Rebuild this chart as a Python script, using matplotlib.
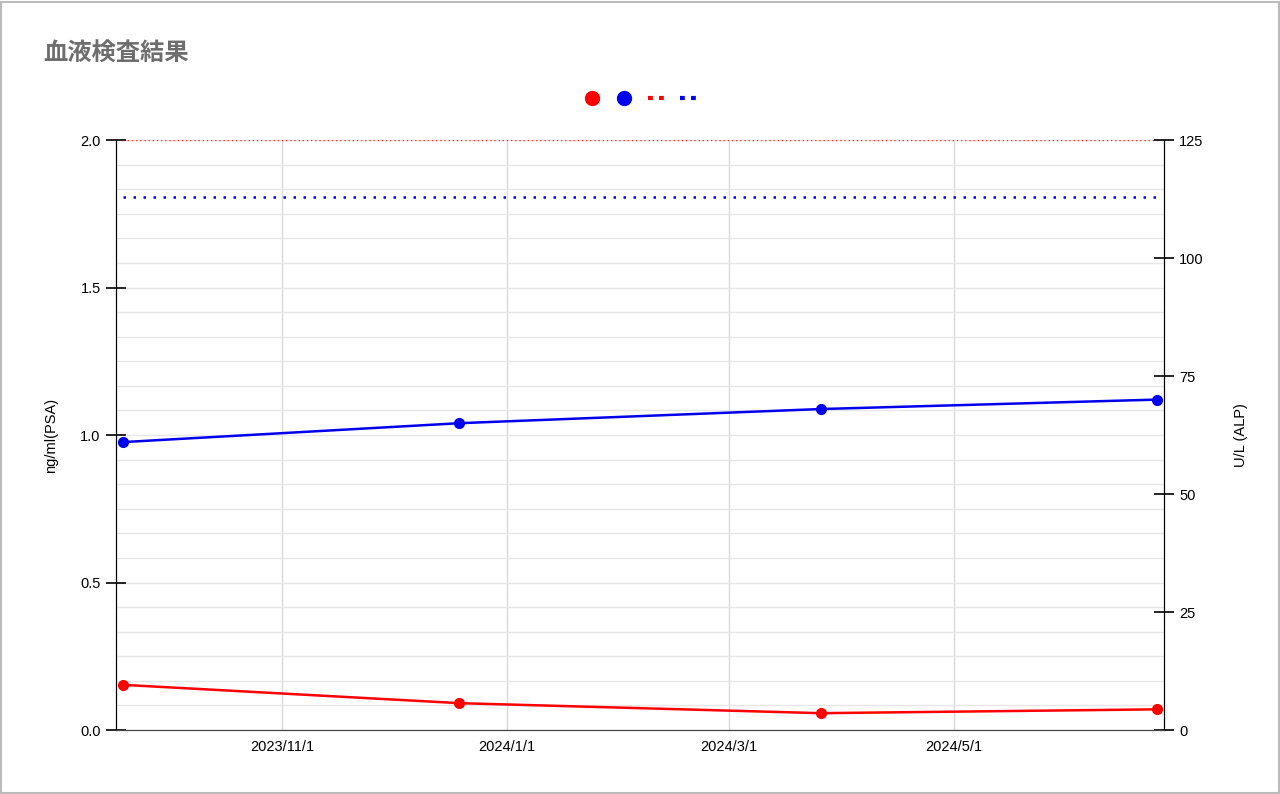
# plot.py
# Blood test results chart: PSA (left axis) and ALP (right axis) over time,
# with dotted reference lines for each.

import datetime as dt

import matplotlib
matplotlib.use("Agg")
import matplotlib.pyplot as plt
import matplotlib.dates as mdates
from matplotlib.lines import Line2D
from matplotlib.patches import Rectangle
from matplotlib.ticker import MultipleLocator, FixedLocator, FuncFormatter


# ---------------------------------------------------------
# Data
# ---------------------------------------------------------
TITLE = "血液検査結果"

test_dates = [
    dt.date(2023, 9, 19),
    dt.date(2023, 12, 19),
    dt.date(2024, 3, 26),
    dt.date(2024, 6, 25),
]
psa_values = [0.153, 0.091, 0.057, 0.070]   # ng/ml
alp_values = [61, 65, 68, 70]               # U/L

psa_limit = 2.0
alp_limit = 113

date_ticks = [
    dt.date(2023, 11, 1),
    dt.date(2024, 1, 1),
    dt.date(2024, 3, 1),
    dt.date(2024, 5, 1),
]

PSA_COLOR = "#ff0000"
ALP_COLOR = "#0000ee"


# ---------------------------------------------------------
# Plot
# ---------------------------------------------------------
plt.rcParams["font.family"] = ["Liberation Sans", "DejaVu Sans"]

fig = plt.figure(figsize=(12.8, 7.94), dpi=100)
fig.patches.append(
    Rectangle((0.001, 0.001), 0.998, 0.997, transform=fig.transFigure,
              fill=False, edgecolor="#bbbbbb", linewidth=1.5)
)

ax = fig.add_axes([116 / 1280, 1 - 730 / 794, (1164 - 116) / 1280, 590 / 794])
ax2 = ax.twinx()

# left axis: PSA
ax.plot(test_dates, psa_values, color=PSA_COLOR, linewidth=1.8,
        marker="o", markersize=7, zorder=4)
ax.plot(test_dates, [psa_limit] * len(test_dates), color=PSA_COLOR,
        linewidth=1.0, linestyle=(0, (1, 2)), alpha=0.8, zorder=3)

# right axis: ALP
ax2.plot(test_dates, alp_values, color=ALP_COLOR, linewidth=1.8,
         marker="o", markersize=7, zorder=4)
ax2.plot(test_dates, [alp_limit] * len(test_dates), color=ALP_COLOR,
         linewidth=1.8, linestyle=(0, (1, 3)), zorder=3)

pad = dt.timedelta(days=2.2)
ax.set_xlim(test_dates[0] - pad, test_dates[-1] + pad)
ax.set_ylim(0, 2.0)
ax2.set_ylim(0, 125)

ax.xaxis.set_major_locator(FixedLocator(mdates.date2num(date_ticks)))
ax.xaxis.set_major_formatter(FuncFormatter(
    lambda v, _: (lambda d: f"{d.year}/{d.month}/{d.day}")(mdates.num2date(v))))
ax.tick_params(axis="x", length=0, pad=7, labelsize=10.5)

ax.yaxis.set_major_locator(MultipleLocator(0.5))
ax.yaxis.set_minor_locator(MultipleLocator(2 / 24))
ax.yaxis.set_major_formatter(FuncFormatter(lambda v, _: f"{v:.1f}"))
ax.tick_params(axis="y", which="major", direction="inout", length=14,
               width=1.2, labelsize=10.5, pad=4)
ax.tick_params(axis="y", which="minor", length=0)

ax2.yaxis.set_major_locator(MultipleLocator(25))
ax2.tick_params(axis="y", which="major", direction="inout", length=14,
                width=1.2, labelsize=10.5, pad=4)

ax.grid(axis="y", which="both", color="#e6e6e6", linewidth=1.0)
ax.grid(axis="x", which="major", color="#d9d9d9", linewidth=1.0)
ax.set_axisbelow(True)

for a in (ax, ax2):
    a.spines["top"].set_visible(False)
    a.spines["left"].set_color("black")
    a.spines["right"].set_color("black")
    a.spines["bottom"].set_color("#444444")

ax.set_ylabel("ng/ml(PSA)", fontsize=10.5, labelpad=16)
ax2.set_ylabel("U/L (ALP)", fontsize=10.5, rotation=90, labelpad=22)

fig.text(43 / 1280, 1 - 53 / 794, TITLE, fontsize=17.5, fontweight="bold",
         color="#6e6e6e", va="center", ha="left",
         family=["Noto Sans CJK JP", "DejaVu Sans"])

# legend with coloured keys only (no labels)
handles = [
    Line2D([], [], color=PSA_COLOR, marker="o", markersize=10, linestyle="none"),
    Line2D([], [], color=ALP_COLOR, marker="o", markersize=10, linestyle="none"),
    Line2D([], [], color=PSA_COLOR, linewidth=3, linestyle=(0, (1.15, 1.5))),
    Line2D([], [], color=ALP_COLOR, linewidth=3, linestyle=(0, (1.15, 1.5))),
]
fig.legend(handles, ["", "", "", ""], loc="center",
           bbox_to_anchor=(640 / 1280, 1 - 99 / 794), ncol=4, frameon=False,
           handlelength=1.2, handletextpad=0, columnspacing=1.1)

fig.savefig("out.png", dpi=100)
